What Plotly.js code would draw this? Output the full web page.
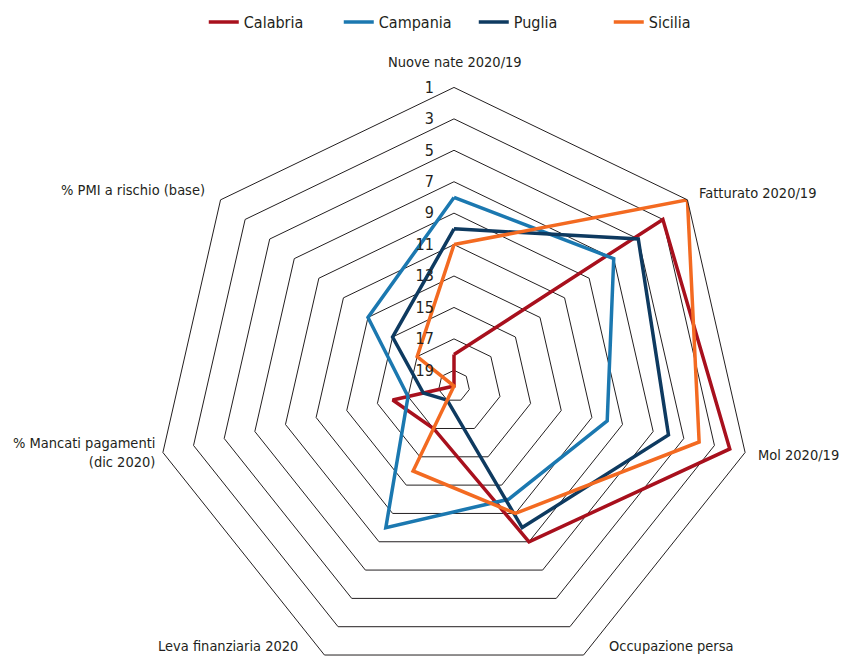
<!DOCTYPE html>
<html>
<head>
<meta charset="utf-8">
<script src="https://cdn.plot.ly/plotly-3.0.1.min.js"></script>
<style>
  html, body { margin: 0; padding: 0; overflow: hidden; background: #fff; }
  #chart { width: 843px; height: 700px; }
</style>
</head>
<body>
<div id="chart"></div>
<script>
// Indicator axes (clockwise from the top)
const indicators = [
  "Nuove nate 2020/19",
  "Fatturato 2020/19",
  "Mol 2020/19",
  "Occupazione persa",
  "Leva finanziaria 2020",
  "% Mancati pagamenti<br>(dic 2020)",
  "% PMI a rischio (base)"
];

// Ranking among the 20 regions (1 = best, drawn on the outer ring)
const calabria = [18, 3, 2, 9, 17, 16, 20];
const campania = [8, 7, 10, 12, 10, 17, 13];
const puglia   = [10, 5, 6, 10, 19, 18, 15];
const sicilia  = [11, 1, 4, 11, 14, 20, 17];

const regionNames = ["Calabria", "Campania", "Puglia", "Sicilia"];
const regionValues = [calabria, campania, puglia, sicilia];
const regionColors = ["#a8101d", "#1b78b0", "#0e3a60", "#f36a21"];

const rankTicks = [1, 3, 5, 7, 9, 11, 13, 15, 17, 19];

const FONT = '"Liberation Sans Narrow", "DejaVu Sans Condensed", "Noto Sans", sans-serif';
const PLOT_H = 700;

// Where each indicator name sits around the web (pixels from the top-left corner)
const labelPlacement = [
  { x: 455, y: 62,  xanchor: "center", align: "center" },
  { x: 697, y: 193, xanchor: "left",   align: "left" },
  { x: 841, y: 455, xanchor: "right",  align: "left" },
  { x: 607, y: 646, xanchor: "left",   align: "left" },
  { x: 300, y: 646, xanchor: "right",  align: "right" },
  { x: 157, y: 452, xanchor: "right",  align: "right" },
  { x: 207, y: 190, xanchor: "right",  align: "right" }
];

// close each polygon by repeating its first vertex
const traces = regionNames.map((name, i) => ({
  type: "scatterpolar",
  mode: "lines",
  name: name,
  r: regionValues[i].concat([regionValues[i][0]]),
  theta: indicators.concat([indicators[0]]),
  line: { color: regionColors[i], width: 3.5 },
  hoverinfo: "name+r+theta"
}));

const annotations = indicators.map((name, i) => ({
  xref: "paper", yref: "paper",
  x: labelPlacement[i].x / 843,
  y: 1 - labelPlacement[i].y / PLOT_H,
  xanchor: labelPlacement[i].xanchor,
  yanchor: "middle",
  align: labelPlacement[i].align,
  text: name,
  showarrow: false,
  font: { family: FONT, size: 14.5, color: "#231f20" }
}));

const layout = {
  width: 843,
  height: PLOT_H,
  margin: { l: 0, r: 0, t: 0, b: 0 },
  paper_bgcolor: "#ffffff",
  font: { family: FONT, size: 15, color: "#231f20" },
  showlegend: true,
  legend: {
    orientation: "h",
    x: 0.562, xanchor: "center",
    y: 1 - 22 / PLOT_H, yanchor: "middle",
    font: { family: FONT, size: 16, color: "#231f20" },
    itemwidth: 30,
    entrywidth: 90,
    traceorder: "normal"
  },
  annotations: annotations,
  polar: {
    domain: { x: [0.1843, 0.8928], y: [0.0220, 0.8751] },
    bgcolor: "rgba(0,0,0,0)",
    gridshape: "linear",
    radialaxis: {
      range: [20, 1],
      tickvals: rankTicks,
      ticktext: rankTicks.map(String),
      angle: 90,
      tickangle: 90,
      side: "counterclockwise",
      showline: false,
      ticks: "outside",
      ticklen: 14,
      tickcolor: "rgba(0,0,0,0)",
      showgrid: true,
      gridcolor: "#231f20",
      gridwidth: 1,
      tickfont: { family: FONT, size: 16, color: "#231f20" }
    },
    angularaxis: {
      type: "category",
      categoryarray: indicators,
      rotation: 90,
      direction: "clockwise",
      showgrid: false,
      showline: true,
      linecolor: "#231f20",
      linewidth: 1,
      ticks: "",
      showticklabels: false
    }
  }
};

Plotly.newPlot("chart", traces, layout, { displayModeBar: false, staticPlot: true });
</script>
</body>
</html>
